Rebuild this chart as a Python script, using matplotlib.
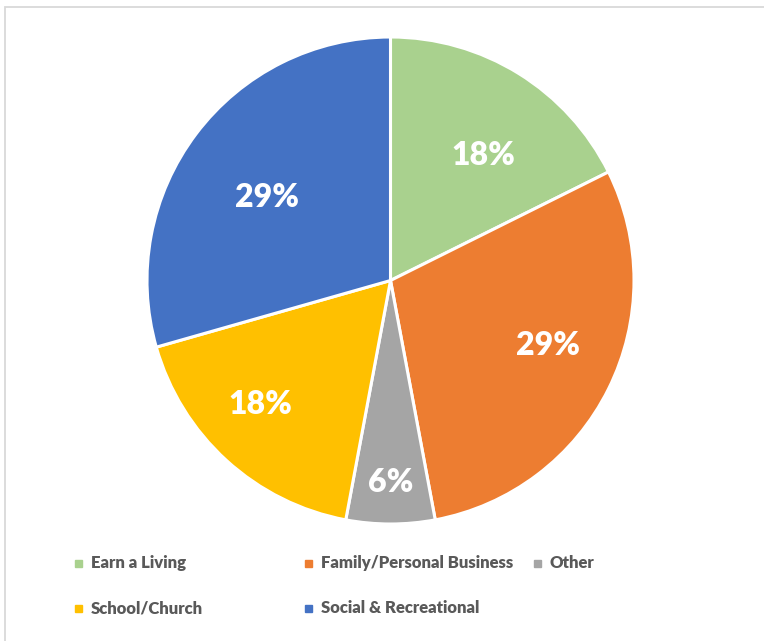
import matplotlib
matplotlib.use("Agg")
import matplotlib.pyplot as plt
import numpy as np
from matplotlib.patches import Rectangle

plt.rcParams["font.family"] = ["Lato", "DejaVu Sans"]

categories = ["Earn a Living", "Family/Personal Business", "Other",
              "School/Church", "Social & Recreational"]
counts = [3, 5, 1, 3, 5]
colors = ["#A9D18E", "#ED7D31", "#A5A5A5", "#FFC000", "#4472C4"]

W, H = 764, 641
fig = plt.figure(figsize=(W / 100, H / 100), dpi=100)

# chart frame (light grey edge along the top and left)
fig.add_artist(Rectangle((5 / W, -0.2), 1.5, 1.2 - 7 / H, transform=fig.transFigure,
                         fill=False, edgecolor="#D9D9D9", linewidth=1.3, clip_on=False))

ax = fig.add_axes([147 / W, (H - 524) / H, 487 / W, 487 / H])
wedges, _ = ax.pie(counts, colors=colors, startangle=90, counterclock=False,
                   radius=1, wedgeprops=dict(edgecolor="white", linewidth=2.2))
ax.set_xlim(-1, 1); ax.set_ylim(-1, 1); ax.set_aspect("equal"); ax.axis("off")

# percentage labels inside the wedges
total = sum(counts)
label_r = [0.64, 0.70, 0.83, 0.74, 0.61]
label_shift = [-5, 4, 0, -4, 3]   # small angular nudges, degrees
for w, c, r, d in zip(wedges, counts, label_r, label_shift):
    mid = np.deg2rad((w.theta1 + w.theta2) / 2 + d)
    ax.text(r * np.cos(mid), r * np.sin(mid), f"{c / total:.0%}", color="white",
            fontsize=23, fontweight="heavy", ha="center", va="center")

# legend laid out in three fixed-width columns
col_x = [78, 308, 537]
row_y = [563, 608]
for i, (name, col) in enumerate(zip(categories, colors)):
    row, colm = divmod(i, 3)
    x, y = col_x[colm], row_y[row]
    fig.add_artist(Rectangle(((x - 3.5) / W, (H - y - 3.5) / H), 7 / W, 7 / H,
                             transform=fig.transFigure, color=col))
    fig.text((x + 13) / W, (H - y) / H, name, color="#595959", fontsize=12,
             fontweight="heavy", ha="left", va="center")

fig.savefig("out.png", dpi=100, facecolor="white")
